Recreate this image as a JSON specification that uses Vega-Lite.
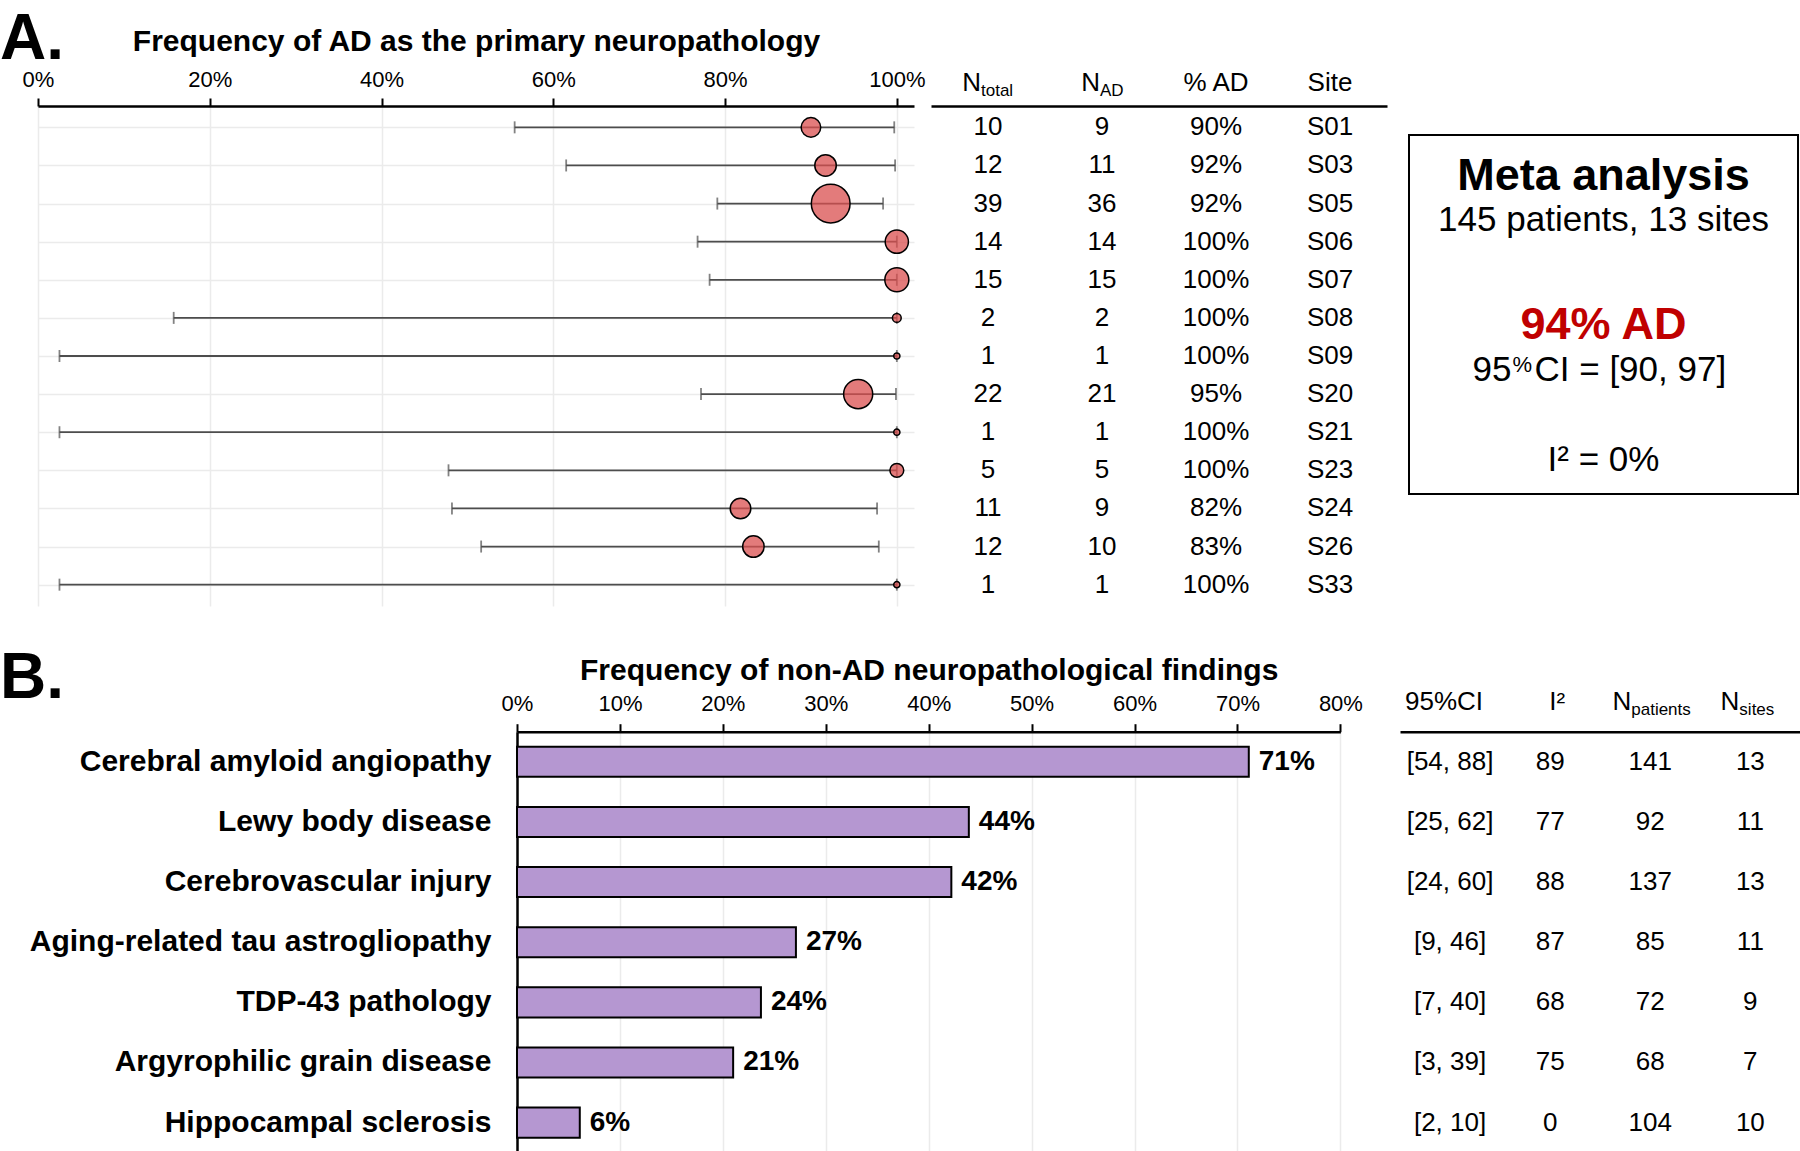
{
  "$schema": "https://vega.github.io/schema/vega-lite/v6.json",
  "background": "white",
  "padding": {"top": 8, "left": 0, "right": 0, "bottom": 0},
  "config": {
    "font": "Liberation Sans",
    "view": {"stroke": null},
    "axis": {"labelFont": "Liberation Sans", "titleFont": "Liberation Sans", "labelColor": "black", "titleColor": "black"},
    "title": {"font": "Liberation Sans", "color": "black"}
  },
  "datasets": {
    "sites": [
      {"Site": "S01", "Ntotal": 10, "NAD": 9, "PctAD": "90%", "p": 0.9, "lo": 0.555, "hi": 0.997},
      {"Site": "S03", "Ntotal": 12, "NAD": 11, "PctAD": "92%", "p": 0.917, "lo": 0.615, "hi": 0.998},
      {"Site": "S05", "Ntotal": 39, "NAD": 36, "PctAD": "92%", "p": 0.923, "lo": 0.791, "hi": 0.984},
      {"Site": "S06", "Ntotal": 14, "NAD": 14, "PctAD": "100%", "p": 1.0, "lo": 0.768, "hi": 1.0},
      {"Site": "S07", "Ntotal": 15, "NAD": 15, "PctAD": "100%", "p": 1.0, "lo": 0.782, "hi": 1.0},
      {"Site": "S08", "Ntotal": 2, "NAD": 2, "PctAD": "100%", "p": 1.0, "lo": 0.158, "hi": 1.0},
      {"Site": "S09", "Ntotal": 1, "NAD": 1, "PctAD": "100%", "p": 1.0, "lo": 0.025, "hi": 1.0},
      {"Site": "S20", "Ntotal": 22, "NAD": 21, "PctAD": "95%", "p": 0.955, "lo": 0.772, "hi": 0.999},
      {"Site": "S21", "Ntotal": 1, "NAD": 1, "PctAD": "100%", "p": 1.0, "lo": 0.025, "hi": 1.0},
      {"Site": "S23", "Ntotal": 5, "NAD": 5, "PctAD": "100%", "p": 1.0, "lo": 0.478, "hi": 1.0},
      {"Site": "S24", "Ntotal": 11, "NAD": 9, "PctAD": "82%", "p": 0.818, "lo": 0.482, "hi": 0.977},
      {"Site": "S26", "Ntotal": 12, "NAD": 10, "PctAD": "83%", "p": 0.833, "lo": 0.516, "hi": 0.979},
      {"Site": "S33", "Ntotal": 1, "NAD": 1, "PctAD": "100%", "p": 1.0, "lo": 0.025, "hi": 1.0}
    ],
    "findings": [
      {"Finding": "Cerebral amyloid angiopathy", "Freq": 0.711, "CI": "[54, 88]", "I2": 89, "Npatients": 141, "Nsites": 13},
      {"Finding": "Lewy body disease", "Freq": 0.439, "CI": "[25, 62]", "I2": 77, "Npatients": 92, "Nsites": 11},
      {"Finding": "Cerebrovascular injury", "Freq": 0.422, "CI": "[24, 60]", "I2": 88, "Npatients": 137, "Nsites": 13},
      {"Finding": "Aging-related tau astrogliopathy", "Freq": 0.271, "CI": "[9, 46]", "I2": 87, "Npatients": 85, "Nsites": 11},
      {"Finding": "TDP-43 pathology", "Freq": 0.237, "CI": "[7, 40]", "I2": 68, "Npatients": 72, "Nsites": 9},
      {"Finding": "Argyrophilic grain disease", "Freq": 0.21, "CI": "[3, 39]", "I2": 75, "Npatients": 68, "Nsites": 7},
      {"Finding": "Hippocampal sclerosis", "Freq": 0.061, "CI": "[2, 10]", "I2": 0, "Npatients": 104, "Nsites": 10}
    ],
    "meta": [
      {"line": "heading", "part": "main", "text": "Meta analysis"},
      {"line": "patients", "part": "main", "text": "145 patients, 13 sites"},
      {"line": "estimate", "part": "main", "text": "94% AD"},
      {"line": "ci", "part": "pre", "text": "95"},
      {"line": "ci", "part": "sup", "text": "%"},
      {"line": "ci", "part": "post", "text": "CI = [90, 97]"},
      {"line": "i2", "part": "main", "text": "I² = 0%"}
    ]
  },
  "spacing": 39.7,
  "vconcat": [
    {
      "title": {"text": "A.", "anchor": "start", "frame": "bounds", "fontSize": 64, "fontWeight": "bold", "baseline": "alphabetic", "offset": -97},
      "spacing": 0,
      "hconcat": [
        {"width": 1, "height": 1, "data": {"values": []}, "mark": {"type": "text"}, "encoding": {}},
        {
          "spacing": 21,
          "hconcat": [
            {
              "spacing": 6,
              "hconcat": [
                {
                  "width": 876,
                  "height": 500,
                  "data": {"name": "sites"},
                  "encoding": {
                    "y": {"field": "Site", "type": "ordinal", "sort": null,
                      "scale": {"type": "point", "padding": 0.56},
                      "axis": {"title": null, "labels": false, "ticks": false, "domain": false, "grid": true, "gridColor": "#ebebeb", "gridWidth": 1.5, "minExtent": 37}}
                  },
                  "layer": [
                    {
                      "mark": {"type": "rule", "color": "#4d4d4d", "strokeWidth": 1.8},
                      "encoding": {
                        "x": {"field": "lo", "type": "quantitative",
                          "scale": {"domain": [0, 1.02], "nice": false, "zero": false},
                          "axis": {"orient": "top", "title": "Frequency of AD as the primary neuropathology", "titleFontSize": 30, "titleFontWeight": "bold", "titlePadding": 12,
                            "values": [0, 0.2, 0.4, 0.6, 0.8, 1], "format": ".0%", "labelFontSize": 22, "labelPadding": 7, "labelFlush": false, "labelOverlap": false,
                            "tickSize": 8, "tickWidth": 2, "tickColor": "black", "domainColor": "black", "domainWidth": 2.5,
                            "grid": true, "gridColor": "#ebebeb", "gridWidth": 1.5}},
                        "x2": {"field": "hi"}
                      }
                    },
                    {
                      "mark": {"type": "tick", "orient": "vertical", "color": "#4d4d4d", "thickness": 1.8, "size": 12},
                      "encoding": {"x": {"field": "lo", "type": "quantitative"}}
                    },
                    {
                      "mark": {"type": "tick", "orient": "vertical", "color": "#4d4d4d", "thickness": 1.8, "size": 12},
                      "encoding": {"x": {"field": "hi", "type": "quantitative"}}
                    },
                    {
                      "mark": {"type": "circle", "fill": "#d94f4f", "fillOpacity": 0.75, "stroke": "black", "strokeWidth": 1.5, "opacity": 1},
                      "encoding": {
                        "x": {"field": "p", "type": "quantitative"},
                        "size": {"field": "Ntotal", "type": "quantitative", "scale": {"domain": [0, 39], "range": [0, 1500]}, "legend": null}
                      }
                    }
                  ]
                },
                {
                  "width": 456,
                  "height": 500,
                  "data": {"name": "sites"},
                  "transform": [{"fold": ["Ntotal", "NAD", "PctAD", "Site"], "as": ["col", "val"]}],
                  "encoding": {
                    "y": {"field": "Site", "type": "ordinal", "sort": null,
                      "scale": {"type": "point", "padding": 0.56, "domain": ["S01","S03","S05","S06","S07","S08","S09","S20","S21","S23","S24","S26","S33"]},
                      "axis": null}
                  },
                  "layer": [
                    {
                      "mark": {"type": "text", "fontSize": 26, "color": "black"},
                      "encoding": {
                        "x": {"field": "col", "type": "nominal",
                          "scale": {"type": "band", "domain": ["Ntotal", "NAD", "PctAD", "Site"], "paddingInner": 0, "paddingOuter": 0},
                          "axis": {"orient": "top", "title": null, "labelAngle": 0, "ticks": false, "tickSize": 0, "domainColor": "black", "domainWidth": 2.5,
                            "labelFontSize": 26, "labelPadding": 11,
                            "labelExpr": "datum.value == 'Ntotal' || datum.value == 'NAD' ? 'N' : datum.value == 'PctAD' ? '% AD' : datum.value",
                            "labelAlign": {"condition": {"test": "datum.value == 'Ntotal' || datum.value == 'NAD'", "value": "right"}, "value": "center"},
                            "labelOffset": {"condition": [{"test": "datum.value == 'Ntotal'", "value": -7}, {"test": "datum.value == 'NAD'", "value": -2}], "value": 0}}},
                        "text": {"field": "val"}
                      }
                    },
                    {
                      "mark": {"type": "text", "fontSize": 26, "opacity": 0},
                      "encoding": {
                        "x": {"field": "col", "type": "nominal",
                          "scale": {"type": "band", "domain": ["Ntotal", "NAD", "PctAD", "Site"], "paddingInner": 0, "paddingOuter": 0},
                          "axis": {"orient": "top", "title": null, "labelAngle": 0, "ticks": false, "tickSize": 0, "domain": false,
                            "labelFontSize": 17, "labelPadding": 7, "labelAlign": "left",
                            "labelExpr": "datum.value == 'Ntotal' ? 'total' : datum.value == 'NAD' ? 'AD' : ''",
                            "labelOffset": {"condition": [{"test": "datum.value == 'Ntotal'", "value": -7}, {"test": "datum.value == 'NAD'", "value": -2}], "value": 0}}},
                        "text": {"field": "val"}
                      }
                    }
                  ],
                  "resolve": {"scale": {"x": "independent"}, "axis": {"x": "independent"}}
                }
              ]
            },
            {
              "spacing": 0,
              "vconcat": [
                {"width": 389, "height": 27.9, "data": {"values": []}, "mark": {"type": "text"}, "encoding": {}},
                {
                  "width": 389,
                  "height": 359,
                  "view": {"stroke": "black", "strokeWidth": 2},
                  "data": {"name": "meta"},
                  "encoding": {
                    "y": {"field": "line", "type": "ordinal",
                      "scale": {"type": "point", "padding": 1, "align": 0.354,
                        "domain": ["_a", "_b", "heading", "_1", "_2", "patients", "_3", "_4", "_5", "_6", "_7", "_8", "estimate", "_9", "_10", "ci", "_11", "_12", "_13", "_14", "_15", "i2", "_16"]},
                      "axis": null},
                    "text": {"field": "text"}
                  },
                  "layer": [
                    {"transform": [{"filter": "datum.line == 'heading'"}], "mark": {"type": "text", "fontSize": 45, "fontWeight": "bold", "color": "black"}},
                    {"transform": [{"filter": "datum.line == 'patients' || datum.line == 'i2'"}], "mark": {"type": "text", "fontSize": 35, "color": "black"}},
                    {"transform": [{"filter": "datum.line == 'estimate'"}], "mark": {"type": "text", "fontSize": 45, "fontWeight": "bold", "color": "#c00000"}},
                    {"transform": [{"filter": "datum.line == 'ci' && datum.part == 'pre'"}], "mark": {"type": "text", "fontSize": 35, "color": "black", "align": "right", "dx": -92}},
                    {"transform": [{"filter": "datum.line == 'ci' && datum.part == 'sup'"}], "mark": {"type": "text", "fontSize": 22, "color": "black", "align": "left", "dx": -91, "dy": -5}},
                    {"transform": [{"filter": "datum.line == 'ci' && datum.part == 'post'"}], "mark": {"type": "text", "fontSize": 35, "color": "black", "align": "left", "dx": -69}}
                  ]
                }
              ]
            }
          ]
        }
      ]
    },
    {
      "title": {"text": "B.", "anchor": "start", "frame": "bounds", "fontSize": 64, "fontWeight": "bold", "baseline": "alphabetic", "offset": -105.9},
      "spacing": 0,
      "hconcat": [
        {"width": 1, "height": 1, "data": {"values": []}, "mark": {"type": "text"}, "encoding": {}},
        {
          "spacing": 37,
          "hconcat": [
            {
              "width": 823.4,
              "height": 421,
              "data": {"name": "findings"},
              "encoding": {
                "y": {"field": "Finding", "type": "nominal", "sort": null,
                  "scale": {"type": "band", "paddingInner": 0.5, "paddingOuter": 0.25},
                  "axis": {"title": null, "ticks": false, "labelFontSize": 30, "labelFontWeight": "bold", "labelPadding": 26, "labelLimit": 700,
                    "domainColor": "black", "domainWidth": 2.5, "minExtent": 515.6}}
              },
              "layer": [
                {
                  "mark": {"type": "bar", "fill": "#b597d1", "stroke": "black", "strokeWidth": 2},
                  "encoding": {
                    "x": {"field": "Freq", "type": "quantitative",
                      "scale": {"domain": [0, 0.8], "nice": false},
                      "axis": {"orient": "top", "title": "Frequency of non-AD neuropathological findings", "titleFontSize": 30, "titleFontWeight": "bold", "titlePadding": 7,
                        "values": [0, 0.1, 0.2, 0.3, 0.4, 0.5, 0.6, 0.7, 0.8], "format": ".0%", "labelFontSize": 22, "labelPadding": 8, "labelFlush": false, "labelOverlap": false,
                        "tickSize": 8, "tickWidth": 2, "tickColor": "black", "domainColor": "black", "domainWidth": 2.5,
                        "grid": true, "gridColor": "#ebebeb", "gridWidth": 1.5}}
                  }
                },
                {
                  "mark": {"type": "text", "align": "left", "dx": 10, "fontSize": 28, "fontWeight": "bold", "color": "black"},
                  "encoding": {
                    "x": {"field": "Freq", "type": "quantitative"},
                    "text": {"field": "Freq", "type": "quantitative", "format": ".0%"}
                  }
                }
              ]
            },
            {
              "width": 400.4,
              "height": 421,
              "data": {"name": "findings"},
              "transform": [{"fold": ["CI", "I2", "Npatients", "Nsites"], "as": ["col", "val"]}],
              "encoding": {
                "y": {"field": "Finding", "type": "nominal",
                  "scale": {"type": "band", "paddingInner": 0.5, "paddingOuter": 0.25,
                    "domain": ["Cerebral amyloid angiopathy", "Lewy body disease", "Cerebrovascular injury", "Aging-related tau astrogliopathy", "TDP-43 pathology", "Argyrophilic grain disease", "Hippocampal sclerosis"]},
                  "axis": null}
              },
              "layer": [
                {
                  "mark": {"type": "text", "fontSize": 26, "color": "black"},
                  "encoding": {
                    "x": {"field": "col", "type": "nominal",
                      "scale": {"type": "band", "domain": ["CI", "I2", "Npatients", "Nsites"], "paddingInner": 0, "paddingOuter": 0},
                      "axis": {"orient": "top", "title": null, "labelAngle": 0, "ticks": false, "tickSize": 0, "domainColor": "black", "domainWidth": 2.5,
                        "labelFontSize": 26, "labelPadding": 17,
                        "labelExpr": "datum.value == 'CI' ? '95%CI' : datum.value == 'I2' ? 'I²' : 'N'",
                        "labelAlign": {"condition": {"test": "datum.value == 'Npatients' || datum.value == 'Nsites'", "value": "right"}, "value": "center"},
                        "labelOffset": {"condition": [{"test": "datum.value == 'Npatients'", "value": -19}, {"test": "datum.value == 'Nsites'", "value": -11}, {"test": "datum.value == 'CI'", "value": -6}, {"test": "datum.value == 'I2'", "value": 7}], "value": 0}}},
                    "text": {"field": "val"}
                  }
                },
                {
                  "mark": {"type": "text", "fontSize": 26, "opacity": 0},
                  "encoding": {
                    "x": {"field": "col", "type": "nominal",
                      "scale": {"type": "band", "domain": ["CI", "I2", "Npatients", "Nsites"], "paddingInner": 0, "paddingOuter": 0},
                      "axis": {"orient": "top", "title": null, "labelAngle": 0, "ticks": false, "tickSize": 0, "domain": false,
                        "labelFontSize": 17, "labelPadding": 13, "labelAlign": "left",
                        "labelExpr": "datum.value == 'Npatients' ? 'patients' : datum.value == 'Nsites' ? 'sites' : ''",
                        "labelOffset": {"condition": [{"test": "datum.value == 'Npatients'", "value": -19}, {"test": "datum.value == 'Nsites'", "value": -11}], "value": 0}}},
                    "text": {"field": "val"}
                  }
                }
              ],
              "resolve": {"scale": {"x": "independent"}, "axis": {"x": "independent"}}
            }
          ]
        }
      ]
    }
  ]
}
